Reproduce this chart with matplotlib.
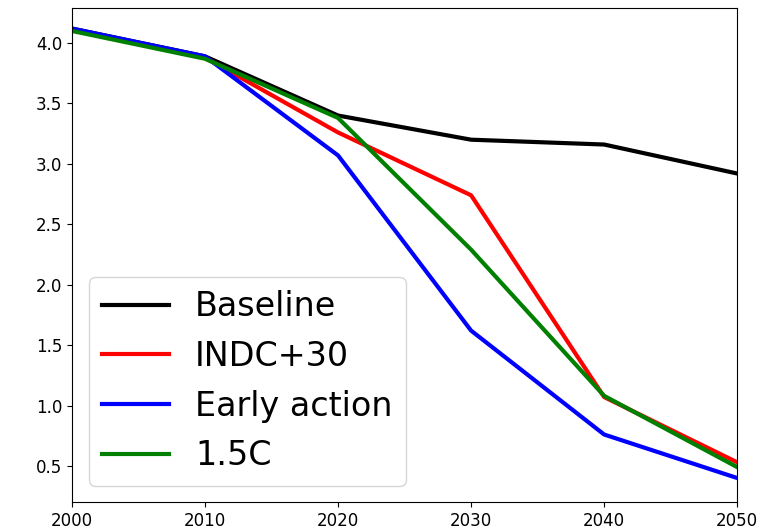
import matplotlib
matplotlib.use("Agg")
import matplotlib.pyplot as plt

years = [2000, 2010, 2020, 2030, 2040, 2050]
baseline = [4.12, 3.89, 3.40, 3.20, 3.16, 2.92]
indc30 = [4.11, 3.88, 3.26, 2.74, 1.07, 0.53]
early_action = [4.12, 3.89, 3.07, 1.62, 0.76, 0.40]
c15 = [4.10, 3.87, 3.38, 2.29, 1.08, 0.49]

fig = plt.figure(figsize=(7.81, 5.32), dpi=100)
ax = fig.add_axes([0.092, 0.056, 0.852, 0.929])

ax.plot(years, baseline, color='black', linewidth=3, label='Baseline')
ax.plot(years, indc30, color='red', linewidth=3, label='INDC+30')
ax.plot(years, early_action, color='blue', linewidth=3, label='Early action')
ax.plot(years, c15, color='green', linewidth=3, label='1.5C')

ax.set_xlim(2000, 2050)
ax.set_ylim(0.2, 4.29)
ax.set_xticks(years)
ax.tick_params(labelsize=12)
ax.legend(loc='lower left', fontsize=24)

fig.savefig('out.png', dpi=100)
